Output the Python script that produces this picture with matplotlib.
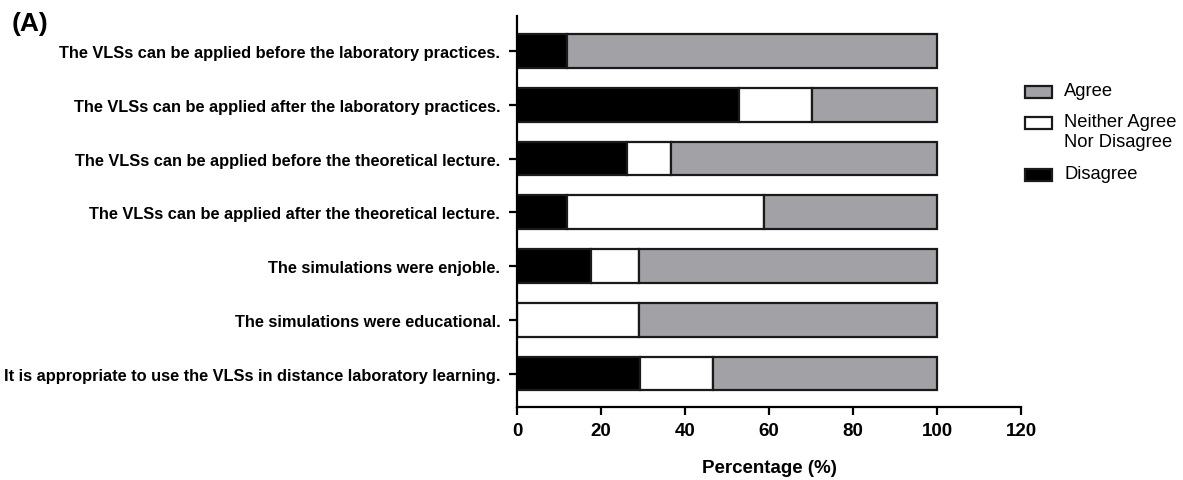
import matplotlib
matplotlib.use("Agg")
import matplotlib.pyplot as plt
import numpy as np
from matplotlib.patches import Rectangle

plt.rcParams['font.family'] = ['Liberation Sans', 'DejaVu Sans']

statements = [
    "The VLSs can be applied before the laboratory practices.",
    "The VLSs can be applied after the laboratory practices.",
    "The VLSs can be applied before the theoretical lecture.",
    "The VLSs can be applied after the theoretical lecture.",
    "The simulations were enjoble.",
    "The simulations were educational.",
    "It is appropriate to use the VLSs in distance laboratory learning.",
]
disagree = [11.8, 52.9, 26.3, 11.8, 17.6, 0.0, 29.3]
neither = [0.0, 17.4, 10.3, 46.9, 11.5, 29.1, 17.4]
agree = [100 - d - n for d, n in zip(disagree, neither)]

legend_labels = ["Agree", "Neither Agree\nNor Disagree", "Disagree"]

gray = "#a2a1a6"
edge = "#1a1a1a"
W, H = 1183, 481
fig = plt.figure(figsize=(W / 100, H / 100), dpi=100)
ax = fig.add_axes([517 / W, 1 - 408 / H, (1021 - 517) / W, (408 - 17) / H])

y = np.arange(len(statements))
h = 0.625
lw = 1.6
ax.barh(y, disagree, height=h, color="black", edgecolor=edge, linewidth=lw, zorder=2)
left2 = np.array(disagree)
ax.barh(y, neither, left=left2, height=h, color="white", edgecolor=edge, linewidth=lw, zorder=2)
left3 = left2 + np.array(neither)
ax.barh(y, agree, left=left3, height=h, color=gray, edgecolor=edge, linewidth=lw, zorder=2)

ax.set_xlim(0, 120)
ax.set_ylim(6.62, -0.65)
ax.set_xticks(np.arange(0, 121, 20))
ax.set_yticks(y)
ax.set_yticklabels(statements, fontsize=11.8, fontweight="bold")
for lab in ax.get_xticklabels():
    lab.set_fontweight("bold")
ax.tick_params(axis="x", labelsize=13.5, width=1.6, length=6, direction="out", pad=5)
ax.tick_params(axis="y", width=1.6, length=6, direction="out", pad=6)
ax.spines["top"].set_visible(False)
ax.spines["right"].set_visible(False)
for s in ("left", "bottom"):
    ax.spines[s].set_linewidth(1.6)
ax.set_xlabel("Percentage (%)", fontsize=13.5, fontweight="bold", labelpad=14)

# Legend: swatch aligned with the first line of each entry
legend_colors = [gray, "white", "black"]
legend_rows = [93, 124, 176]   # pixel y (from top) of each entry's first line
for label, col, yy in zip(legend_labels, legend_colors, legend_rows):
    fig.patches.append(Rectangle((1025 / W, 1 - (yy + 6) / H), 27 / W, 12 / H,
                                 transform=fig.transFigure, facecolor=col,
                                 edgecolor=edge, linewidth=1.6))
    fig.text(1064 / W, 1 - (yy - 10) / H, label, fontsize=13.2, va="top", ha="left",
             linespacing=1.22)

fig.text(12 / W, 1 - 24 / H, "(A)", fontsize=19, fontweight="bold", va="center", ha="left")

fig.savefig("out.png", dpi=100)
